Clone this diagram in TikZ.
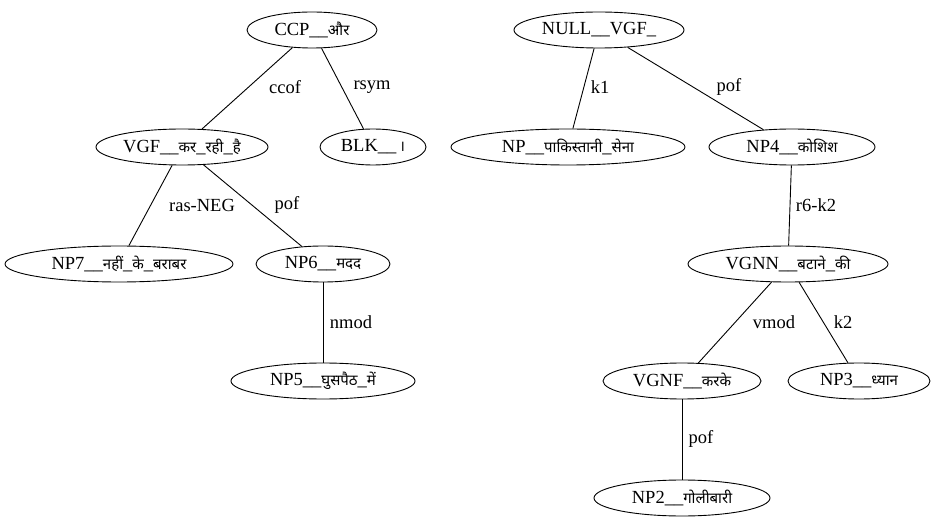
\documentclass[tikz,border=0pt]{standalone}
\usepackage{fontspec}
\setmainfont{Liberation Serif}
\newfontfamily\deva[Script=Devanagari]{Noto Sans}
\usetikzlibrary{shapes.geometric}
% Devanagari run
\newcommand{\dv}[1]{{\deva\fontsize{15bp}{18bp}\selectfont #1}}
\begin{document}
\begin{tikzpicture}[x=1bp,y=-1bp,
  font=\fontsize{18.5bp}{21bp}\selectfont,
  tok/.style={ellipse, draw, line width=0.9bp, inner sep=0pt,
    minimum height=36bp, minimum width=#1bp},
  rel/.style={line width=0.9bp},
  lab/.style={inner sep=1pt}]
\useasboundingbox (0,0) rectangle (932,528);

% left tree
\node[tok=130] (ccp)  at (312,30)  {\makebox[0pt]{CCP\_\_\dv{और}}};
\node[tok=172] (vgf)  at (182,147) {\makebox[0pt]{VGF\_\_\dv{कर}\_\dv{रही}\_\dv{है}}};
\node[tok=106] (blk)  at (373,147) {\makebox[0pt]{BLK\_\_\,\dv{।}}};
\node[tok=228] (np7)  at (119,264) {\makebox[0pt]{NP7\_\_\dv{नहीं}\_\dv{के}\_\dv{बराबर}}};
\node[tok=134] (np6)  at (323,264) {\makebox[0pt]{NP6\_\_\dv{मदद}}};
\node[tok=184] (np5)  at (323,381) {\makebox[0pt]{NP5\_\_\dv{घुसपैठ}\_\dv{में}}};

% right tree
\node[tok=170] (null) at (599,30)  {\makebox[0pt]{NULL\_\_VGF\_}};
\node[tok=234] (np)   at (568,147) {\makebox[0pt]{NP\_\_\dv{पाकिस्तानी}\_\dv{सेना}}};
\node[tok=166] (np4)  at (792,147) {\makebox[0pt]{NP4\_\_\dv{कोशिश}}};
\node[tok=200] (vgnn) at (788,264) {\makebox[0pt]{VGNN\_\_\dv{बटाने}\_\dv{की}}};
\node[tok=158] (vgnf) at (682,381) {\makebox[0pt]{VGNF\_\_\dv{करके}}};
\node[tok=142] (np3)  at (859,381) {\makebox[0pt]{NP3\_\_\dv{ध्यान}}};
\node[tok=176] (np2)  at (682,498) {\makebox[0pt]{NP2\_\_\dv{गोलीबारी}}};

% dependency arcs
\draw[rel] (ccp) -- (vgf);
\draw[rel] (ccp) -- (blk);
\draw[rel] (vgf) -- (np7);
\draw[rel] (vgf) -- (np6);
\draw[rel] (np6) -- (np5);
\draw[rel] (null) -- (np);
\draw[rel] (null) -- (np4);
\draw[rel] (np4) -- (vgnn);
\draw[rel] (vgnn) -- (vgnf);
\draw[rel] (vgnn) -- (np3);
\draw[rel] (vgnf) -- (np2);

% relation labels
\node[lab] (l1)  at (285,87)  {ccof};
\node[lab] (l2)  at (372,87)  {rsym};
\node[lab] (l3)  at (202,205) {ras-NEG};
\node[lab] (l4)  at (287,205) {pof};
\node[lab] (l5)  at (351,322) {nmod};
\node[lab] (l6)  at (600,87)  {k1};
\node[lab] (l7)  at (729,87)  {pof};
\node[lab] (l8)  at (816,205) {r6-k2};
\node[lab] (l9)  at (774,322) {vmod};
\node[lab] (l10) at (843,322) {k2};
\node[lab] (l11) at (701,439) {pof};
\end{tikzpicture}
\end{document}
